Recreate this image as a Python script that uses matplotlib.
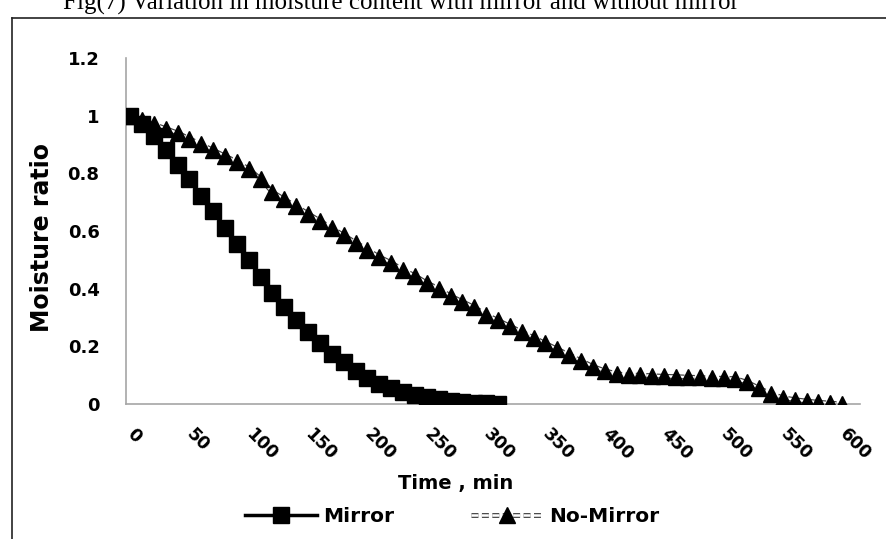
import numpy as np
import matplotlib
matplotlib.use("Agg")
import matplotlib.pyplot as plt
from matplotlib.lines import Line2D
from matplotlib.legend_handler import HandlerTuple

plt.rcParams["lines.scale_dashes"] = False

# data (time in min, moisture ratio)
time_mirror = np.arange(0, 320, 10)
mr_mirror = [1.0, 0.97, 0.93, 0.88, 0.83, 0.78, 0.72, 0.67, 0.61, 0.555,
             0.50, 0.44, 0.385, 0.335, 0.29, 0.25, 0.21, 0.175, 0.145, 0.115,
             0.09, 0.07, 0.055, 0.042, 0.032, 0.024, 0.017, 0.012, 0.008, 0.005,
             0.003, 0.001]

time_nomirror = np.arange(0, 610, 10)
mr_nomirror = [1.0, 0.985, 0.97, 0.955, 0.94, 0.92, 0.90, 0.88, 0.86, 0.84,
               0.815, 0.78, 0.735, 0.71, 0.685, 0.66, 0.635, 0.61, 0.585, 0.56,
               0.535, 0.51, 0.49, 0.465, 0.445, 0.42, 0.40, 0.375, 0.355, 0.335,
               0.31, 0.29, 0.27, 0.25, 0.23, 0.21, 0.19, 0.17, 0.15, 0.13,
               0.115, 0.105, 0.10, 0.10, 0.098, 0.096, 0.095, 0.093, 0.092, 0.09,
               0.089, 0.088, 0.075, 0.055, 0.035, 0.022, 0.015, 0.01, 0.006, 0.003,
               0.0]

xticks = np.arange(0, 650, 50)
yticks = [0, 0.2, 0.4, 0.6, 0.8, 1.0, 1.2]
ytick_labels = ["0", "0.2", "0.4", "0.6", "0.8", "1", "1.2"]

W, H = 887, 539
font = "DejaVu Sans"
dash = (0, (5, 2.5))

fig = plt.figure(figsize=(W / 100, H / 100), dpi=100)
ax = fig.add_axes([126 / W, 1 - 404 / H, (860 - 126) / W, (404 - 58) / H])

ax.plot(time_mirror, mr_mirror, color="black", lw=2, marker="s", ms=12,
        zorder=3)
ax.plot(time_nomirror, mr_nomirror, color="#404040", lw=3.5, ls=dash,
        zorder=2)
ax.plot(time_nomirror, mr_nomirror, color="white", lw=1.8, ls=dash,
        zorder=2)
ax.plot(time_nomirror, mr_nomirror, ls="none", color="black", marker="^",
        ms=12, zorder=3)

ax.set_xlim(-3.4, 615)
ax.set_ylim(0, 1.2)
for s in ["top", "right"]:
    ax.spines[s].set_visible(False)
for s in ["left", "bottom"]:
    ax.spines[s].set_color("#a6a6a6")
    ax.spines[s].set_linewidth(1.2)

ax.set_yticks(yticks)
ax.set_yticklabels(ytick_labels, fontfamily=font, fontweight="bold", fontsize=13)
ax.set_xticks(xticks)
ax.set_xticklabels([str(t) for t in xticks], fontfamily=font,
                   fontweight="bold", fontsize=12.5, rotation=-45, ha="left",
                   va="center", rotation_mode="anchor")
ax.tick_params(axis="y", length=0, pad=19)
ax.tick_params(axis="x", length=0, pad=20)

fig.text(456 / W, 1 - 484 / H, "Time , min", ha="center", va="center",
         fontfamily=font, fontweight="bold", fontsize=14)
fig.text(42 / W, 1 - 238 / H, "Moisture ratio", ha="center", va="center",
         rotation=90, fontfamily=font, fontweight="bold", fontsize=17)

# legend
h1 = Line2D([], [], color="black", lw=2.5, marker="s", ms=12)
h2a = Line2D([], [], color="#404040", lw=3.5, ls=dash)
h2b = Line2D([], [], color="white", lw=1.8, ls=dash)
h2c = Line2D([], [], ls="none", color="black", marker="^", ms=12)
fig.legend([h1, (h2a, h2b, h2c)], ["Mirror", "No-Mirror"],
           handler_map={tuple: HandlerTuple(ndivide=1, pad=0)},
           loc="center", bbox_to_anchor=(452 / W, 1 - 517 / H), ncol=2,
           frameon=False, handlelength=3.6, handletextpad=0.3, columnspacing=3.8,
           prop={"family": font, "weight": "bold", "size": 14.5})

# outer frame of the original figure
fig.add_artist(Line2D([12 / W, 12 / W], [0, 1 - 18 / H], color="#222222",
                      lw=1.2, transform=fig.transFigure))
fig.add_artist(Line2D([12 / W, 1], [1 - 18 / H, 1 - 18 / H], color="#222222",
                      lw=1.2, transform=fig.transFigure))

# caption, cut off at the top edge in the original
fig.text(401 / W, 1 - 10 / H,
         "Fig(7) Variation in moisture content with mirror and without mirror",
         ha="center", va="baseline", fontfamily="Liberation Serif", fontsize=18)

fig.savefig("out.png", dpi=100)
